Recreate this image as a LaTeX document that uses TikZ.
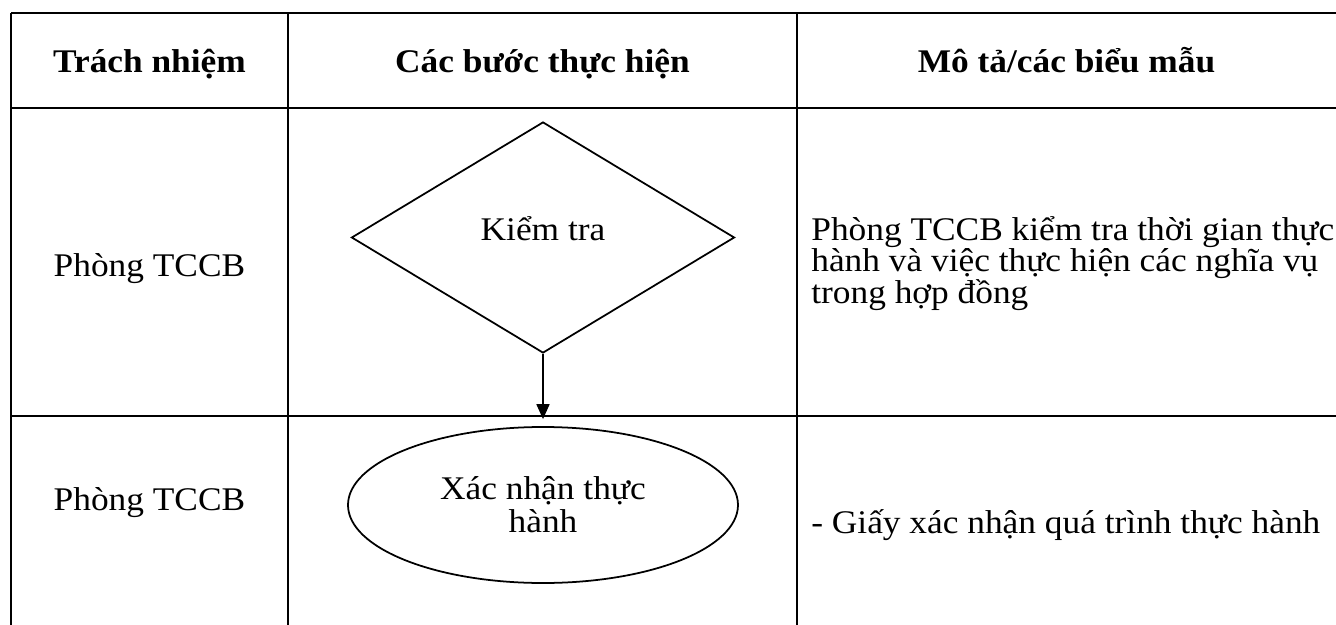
\documentclass[tikz,border=0pt]{standalone}
\usepackage{fontspec}
\setmainfont{Liberation Serif}[FakeStretch=1.07]
\usetikzlibrary{shapes.geometric, arrows.meta, positioning}

\tikzset{
    cell/.style={font=\fontsize{18.8}{17.8}\selectfont, inner sep=0pt},
    headcell/.style={cell, font=\fontsize{18.8}{17.8}\selectfont\bfseries},
    rule/.style={line width=0.9pt},
    decision/.style={diamond, draw, line width=1pt, inner sep=0pt,
        minimum width=7.66cm, minimum height=4.62cm},
    terminal/.style={ellipse, draw, line width=1pt, inner sep=0pt,
        minimum width=7.8cm, minimum height=3.12cm, align=center,
        font=\fontsize{18.8}{18.8}\selectfont},
    flow/.style={line width=1pt, -{Triangle[length=0.3cm, width=0.26cm]}}
}

\begin{document}
\begin{tikzpicture}

        \useasboundingbox (0,0) rectangle (26.72,-12.5);

        % ==========================================
        % 1. Khung bảng
        % ==========================================
        \draw[rule] (0.22,-0.26) -- (26.72,-0.26);
        \draw[rule] (0.22,-2.16) -- (26.72,-2.16);
        \draw[rule] (0.22,-8.32) -- (26.72,-8.32);
        \draw[rule] (0.22,-0.26) -- (0.22,-12.5);
        \draw[rule] (5.76,-0.26) -- (5.76,-12.5);
        \draw[rule] (15.94,-0.26) -- (15.94,-12.5);

        % ==========================================
        % 2. Tiêu đề cột
        % ==========================================
        \node[headcell, anchor=base] (hresp) at (2.99,-1.46) {Trách nhiệm};
        \node[headcell, anchor=base] (hstep) at (10.85,-1.46) {Các bước thực hiện};
        \node[headcell, anchor=base] (hdesc) at (21.33,-1.46) {Mô tả/các biểu mẫu};

        % ==========================================
        % 3. Trách nhiệm
        % ==========================================
        \node[cell, anchor=base] (resp1) at (2.99,-5.52) {Phòng TCCB};
        \node[cell, anchor=base] (resp2) at (2.99,-10.2) {Phòng TCCB};

        % ==========================================
        % 4. Các bước thực hiện
        % ==========================================
        \node[decision] (check) at (10.86,-4.75) {};
        \node[cell, anchor=base] (checktext) at (10.86,-4.80) {Kiểm tra};
        \node[terminal] (confirm) at (10.86,-10.1) {Xác nhận thực\\hành};
        \draw[flow, shorten >=0.14cm] (check.south) -- (confirm.north);

        % ==========================================
        % 5. Mô tả
        % ==========================================
        % (base = dòng cuối của đoạn)
        \node[cell, anchor=base west, align=left] (desc1) at (16.22,-6.06)
            {Phòng TCCB kiểm tra thời gian thực\\hành và việc thực hiện các nghĩa vụ\\trong hợp đồng};
        \node[cell, anchor=base west] (desc2) at (16.22,-10.66)
            {- Giấy xác nhận quá trình thực hành};

    \end{tikzpicture}
\end{document}
